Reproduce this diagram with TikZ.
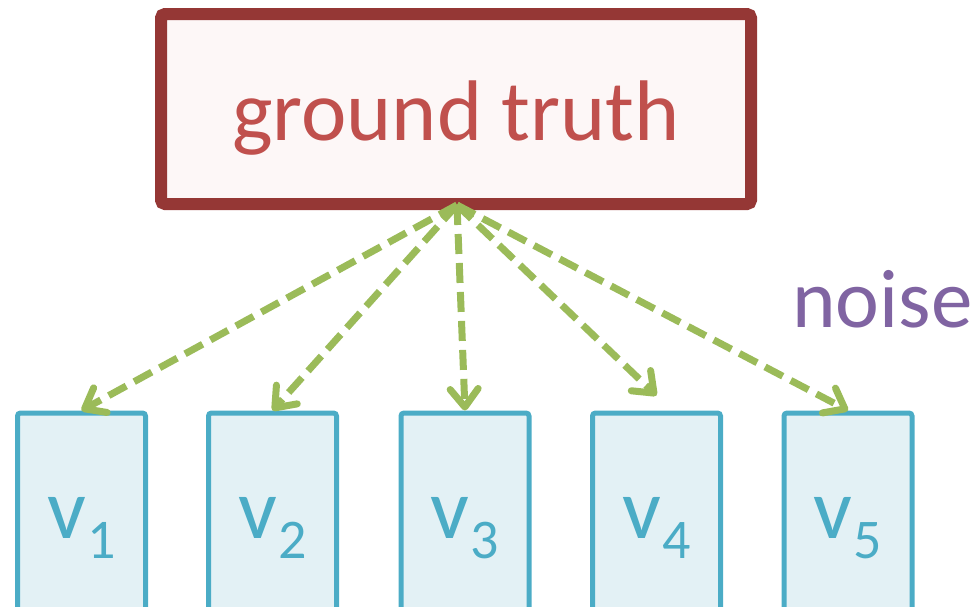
\documentclass[tikz,border=0pt]{standalone}
\usepackage{fontspec}
\setmainfont{Carlito}
\usetikzlibrary{arrows.meta}
\definecolor{gtborder}{HTML}{953735}
\definecolor{gtfill}{HTML}{FDF7F7}
\definecolor{gttext}{HTML}{C0504D}
\definecolor{arrowgreen}{HTML}{9BBB59}
\definecolor{vborder}{HTML}{4BACC6}
\definecolor{vfill}{HTML}{E3F1F5}
\definecolor{noisecol}{HTML}{8064A2}
\tikzset{
  gtbox/.style={draw=gtborder, fill=gtfill, line width=6pt, rounded corners=2pt,
    minimum width=295pt, minimum height=95pt, inner sep=0pt,
    text=gttext, font=\fontsize{43}{50}\selectfont, text height=31pt, text depth=0pt},
  vbox/.style={draw=vborder, fill=vfill, line width=2.5pt, rounded corners=1.5pt,
    minimum width=64pt, minimum height=103.5pt, inner sep=0pt,
    text=vborder, text height=21.5pt, text depth=0pt},
  noisy/.style={draw=arrowgreen, line width=3.5pt, dash pattern=on 10pt off 4.5pt,
    -{Straight Barb[length=9pt,width=14pt,round]}},
}
\newcommand{\vlab}[1]{{\fontsize{43}{50}\selectfont v\raisebox{-10pt}{\kern0.5pt\fontsize{28}{32}\selectfont #1}}}
\begin{document}
\begin{tikzpicture}[x=0.5pt,y=-0.5pt]
\useasboundingbox (0,0) rectangle (976,606);
\clip (0,0) rectangle (976,606);
\node[gtbox] (gt) at (456,109) {ground truth};
\node[vbox] (v1) at (81.5,516.5) {\vlab{1}};
\node[vbox] (v2) at (272.5,516.5) {\vlab{2}};
\node[vbox] (v3) at (465,516.5) {\vlab{3}};
\node[vbox] (v4) at (656.5,516.5) {\vlab{4}};
\node[vbox] (v5) at (848,516.5) {\vlab{5}};
\node[anchor=base west, inner sep=0pt, text=noisecol, font=\fontsize{41.5}{50}\selectfont] (noise) at (792,327) {noise};
\coordinate (src) at (457,205);
\draw[noisy] (src) -- (v1.north);
\draw[noisy] (src) -- (v2.north);
\draw[noisy] (src) -- (v3.north);
\draw[noisy] (src) -- ([yshift=7.5pt]v4.north);
\draw[noisy] (src) -- (v5.north);
\end{tikzpicture}
\end{document}
